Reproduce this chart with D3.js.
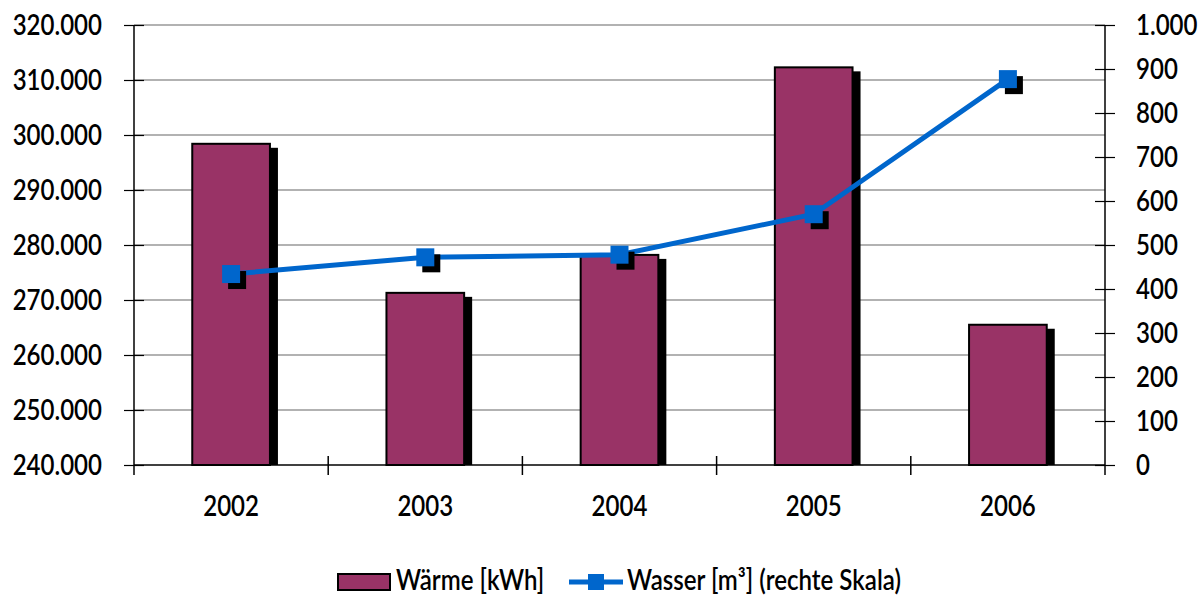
<!DOCTYPE html>
<html>
<head>
<meta charset="utf-8">
<script src="https://cdn.jsdelivr.net/npm/d3@7"></script>
<style>
  html, body { margin: 0; padding: 0; background: #fff; }
  svg { display: block; }
  text { font-family: Lato, "Noto Sans", sans-serif; font-weight: 600; fill: #000; font-size: 29px; }
</style>
</head>
<body>
<svg id="chart" width="1203" height="598"></svg>
<script>
// Jahre, Wärmeverbrauch (kWh, linke Skala) und Wasserverbrauch (m³, rechte Skala)
const years = ["2002", "2003", "2004", "2005", "2006"];
const waerme = [298400, 271300, 278200, 312300, 265500];
const wasser = [434, 472, 478, 570, 877];
const leftTicks = [240000, 250000, 260000, 270000, 280000, 290000, 300000, 310000, 320000];
const rightTicks = [0, 100, 200, 300, 400, 500, 600, 700, 800, 900, 1000];
const legendLabels = ["Wärme [kWh]", "Wasser [m³] (rechte Skala)"];

const svg = d3.select("#chart");
const m = { left: 134, right: 1105, top: 25, bottom: 465 };
const condense = 0.83; // schmal laufende Schrift

const x = d3.scaleBand().domain(years).range([m.left, m.right]).paddingInner(0.6).paddingOuter(0.3);
const yL = d3.scaleLinear().domain([240000, 320000]).range([m.bottom, m.top]);
const yR = d3.scaleLinear().domain([0, 1000]).range([m.bottom, m.top]);

const fmt = d3.formatLocale({ decimal: ",", thousands: ".", grouping: [3], currency: ["", "€"] }).format(",");

// Gitterlinien
svg.append("g").selectAll("line").data(leftTicks.slice(1)).join("line")
  .attr("x1", m.left).attr("x2", m.right)
  .attr("y1", d => yL(d)).attr("y2", d => yL(d))
  .attr("stroke", "#999").attr("stroke-width", 1.5);

// Balken mit Schatten
const barG = svg.append("g");
barG.selectAll("rect.shadow").data(years).join("rect")
  .attr("class", "shadow")
  .attr("x", d => x(d) + 8).attr("y", (d, i) => yL(waerme[i]) + 4)
  .attr("width", x.bandwidth()).attr("height", (d, i) => yL(240000) - yL(waerme[i]) - 4)
  .attr("fill", "#000");
barG.selectAll("rect.bar").data(years).join("rect")
  .attr("class", "bar")
  .attr("x", d => x(d)).attr("y", (d, i) => yL(waerme[i]))
  .attr("width", x.bandwidth()).attr("height", (d, i) => yL(240000) - yL(waerme[i]))
  .attr("fill", "#993366").attr("stroke", "#000").attr("stroke-width", 2);

// Achsen
const axL = svg.append("g").attr("transform", `translate(${m.left},0)`)
  .call(d3.axisLeft(yL).tickValues(leftTicks).tickSize(10).tickPadding(22).tickFormat(fmt));
axL.selectAll(".tick line").attr("x1", -10).attr("x2", 10);
const axR = svg.append("g").attr("transform", `translate(${m.right},0)`)
  .call(d3.axisRight(yR).tickValues(rightTicks).tickSize(10).tickPadding(21).tickFormat(fmt));
axR.selectAll(".tick line").attr("x1", -10).attr("x2", 10);
const axB = svg.append("g").attr("transform", `translate(0,${m.bottom})`)
  .call(d3.axisBottom(x).tickSize(0).tickPadding(0));
axB.selectAll(".tick text").attr("y", 41).attr("dy", "0.35em");

// Kategorietrennstriche und verlängerte Achsenlinien
const sep = d3.range(years.length + 1).map(i => i === years.length ? m.right : x(years[i]) - x.step() * x.paddingInner() / 2);
svg.append("g").selectAll("line").data(sep).join("line")
  .attr("x1", d => d).attr("x2", d => d)
  .attr("y1", (d, i) => (i === 0 || i === years.length) ? m.bottom : m.bottom - 9).attr("y2", m.bottom + 10)
  .attr("stroke", "#000").attr("stroke-width", 1.5);

[axL, axR, axB].forEach(a => {
  a.attr("font-family", null).attr("font-size", null);
  a.select(".domain").attr("stroke", "#000").attr("stroke-width", 1.5);
  a.selectAll(".tick line").attr("stroke", "#000").attr("stroke-width", 1.2);
});
axL.select(".domain").attr("d", `M0,${m.top}V${m.bottom}`);
axR.select(".domain").attr("d", `M0,${m.top}V${m.bottom}`);
axB.select(".domain").attr("d", `M${m.left},0H${m.right}`);

// Wasserlinie
const cx = d => x(d) + x.bandwidth() / 2;
svg.append("path").datum(years)
  .attr("d", d3.line().x(d => cx(d)).y((d, i) => yR(wasser[i])))
  .attr("fill", "none").attr("stroke", "#0066CC").attr("stroke-width", 5);
const ms = 18;
svg.append("g").selectAll("rect").data(years).join("rect")
  .attr("x", d => cx(d) - ms / 2 + 6).attr("y", (d, i) => yR(wasser[i]) - ms / 2 + 6)
  .attr("width", ms).attr("height", ms).attr("fill", "#000");
svg.append("g").selectAll("rect").data(years).join("rect")
  .attr("x", d => cx(d) - ms / 2).attr("y", (d, i) => yR(wasser[i]) - ms / 2)
  .attr("width", ms).attr("height", ms).attr("fill", "#0066CC");

// Legende
const lg = svg.append("g").attr("transform", "translate(0,582)");
lg.append("rect").attr("x", 338).attr("y", -8).attr("width", 52).attr("height", 16)
  .attr("fill", "#993366").attr("stroke", "#000").attr("stroke-width", 2);
lg.append("text").attr("x", 396).attr("y", 8).style("font-size", "28px").text(legendLabels[0]);
lg.append("line").attr("x1", 569).attr("x2", 623).attr("y1", 0).attr("y2", 0)
  .attr("stroke", "#0066CC").attr("stroke-width", 5);
lg.append("rect").attr("x", 588).attr("y", -8).attr("width", 16).attr("height", 16).attr("fill", "#0066CC");
lg.append("text").attr("x", 627).attr("y", 8).style("font-size", "28px").text(legendLabels[1]);

// Schrift schmal setzen: horizontal um den Ankerpunkt stauchen
const squeeze = (el, k) => {
  const ax = +(el.getAttribute("x") || 0);
  d3.select(el).attr("transform", `translate(${ax},0) scale(${k},1) translate(${-ax},0)`);
};
svg.selectAll("text").each(function () { squeeze(this, condense); });
lg.selectAll("text").each(function () { squeeze(this, 0.86); });
</script>
</body>
</html>
